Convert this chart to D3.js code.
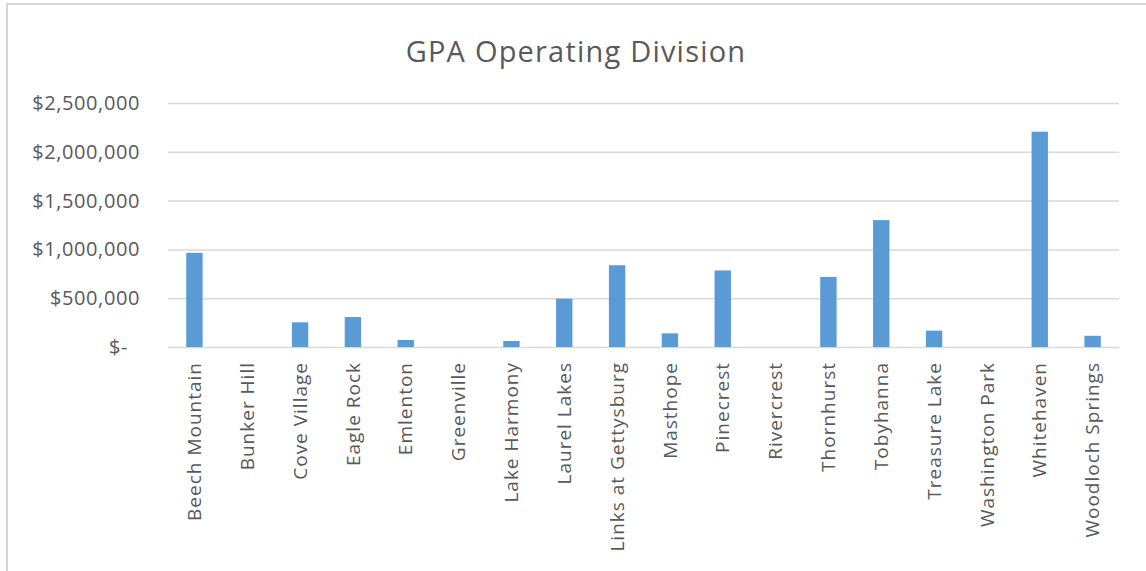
<!DOCTYPE html>
<html>
<head>
<meta charset="utf-8">
<script src="https://cdn.jsdelivr.net/npm/d3@7"></script>
<style>
  body { margin: 0; background: #fff; }
  svg text { font-family: "Open Sans", "Noto Sans", sans-serif; fill: #595959; }
</style>
</head>
<body>
<div id="chart-div"></div>
<script>
// データ------------------------------------------------------------------------------
const courses = ['Beech Mountain', 'Bunker Hill', 'Cove Village', 'Eagle Rock', 'Emlenton', 'Greenville',
  'Lake Harmony', 'Laurel Lakes', 'Links at Gettysburg', 'Masthope', 'Pinecrest', 'Rivercrest',
  'Thornhurst', 'Tobyhanna', 'Treasure Lake', 'Washington Park', 'Whitehaven', 'Woodloch Springs'];
const revenue = [965000, 0, 253000, 307000, 72000, 0,
  62000, 495000, 838000, 140000, 784000, 0,
  718000, 1300000, 168000, 0, 2206000, 115000];
const yTicks = [0, 500000, 1000000, 1500000, 2000000, 2500000];
const title = 'GPA Operating Division';

// SVG領域-----------------------------------------------------------------------------
const width = 1146, height = 571;
const margin = {left: 168, right: 27, top: 103, bottom: 224};

const svg = d3.select('#chart-div')
  .append('svg')
  .attr('width', width)
  .attr('height', height);

// 外枠
svg.append('rect')
  .attr('x', 7).attr('y', 4)
  .attr('width', width).attr('height', height)
  .attr('fill', 'none')
  .attr('stroke', '#d4d4d4')
  .attr('stroke-width', 2);

const x = d3.scaleBand()
  .domain(courses)
  .range([margin.left, width - margin.right])
  .paddingInner(0.69)
  .paddingOuter(0.345);

const y = d3.scaleLinear()
  .domain([0, 2500000])
  .range([height - margin.bottom, margin.top]);

const fmt = v => v === 0 ? '$-\u2007' : '$' + d3.format(',')(v);

// グリッド線とy軸---------------------------------------------------------------------
const yAxis = svg.append('g')
  .attr('transform', 'translate(' + margin.left + ',0)')
  .call(d3.axisLeft(y).tickValues(yTicks).tickFormat(fmt)
    .tickSize(-(width - margin.left - margin.right)).tickPadding(28));
yAxis.select('.domain').remove();
yAxis.selectAll('.tick line')
  .attr('stroke', '#d9d9d9')
  .attr('stroke-width', 1.5);
yAxis.selectAll('.tick text')
  .attr('font-size', '20px')
  .attr('letter-spacing', '0.6px');

// 棒グラフ---------------------------------------------------------------------------
svg.append('g')
  .selectAll('rect')
  .data(courses)
  .enter()
  .append('rect')
  .attr('x', d => x(d))
  .attr('width', x.bandwidth())
  .attr('y', (d, i) => y(revenue[i]))
  .attr('height', (d, i) => y(0) - y(revenue[i]))
  .attr('fill', '#5b9bd5');

// x軸ラベル--------------------------------------------------------------------------
svg.append('g')
  .selectAll('text')
  .data(courses)
  .enter()
  .append('text')
  .attr('transform', d => 'translate(' + (x(d) + x.bandwidth() / 2) + ',' + (y(0) + 15) + ') rotate(-90)')
  .attr('text-anchor', 'end')
  .attr('dy', '0.35em')
  .attr('font-size', '19px')
  .attr('letter-spacing', '1px')
  .text(d => d);

// タイトル----------------------------------------------------------------------------
svg.append('text')
  .attr('x', 576)
  .attr('y', 62)
  .attr('text-anchor', 'middle')
  .attr('font-size', '29px')
  .attr('letter-spacing', '1.2px')
  .text(title);
</script>
</body>
</html>
